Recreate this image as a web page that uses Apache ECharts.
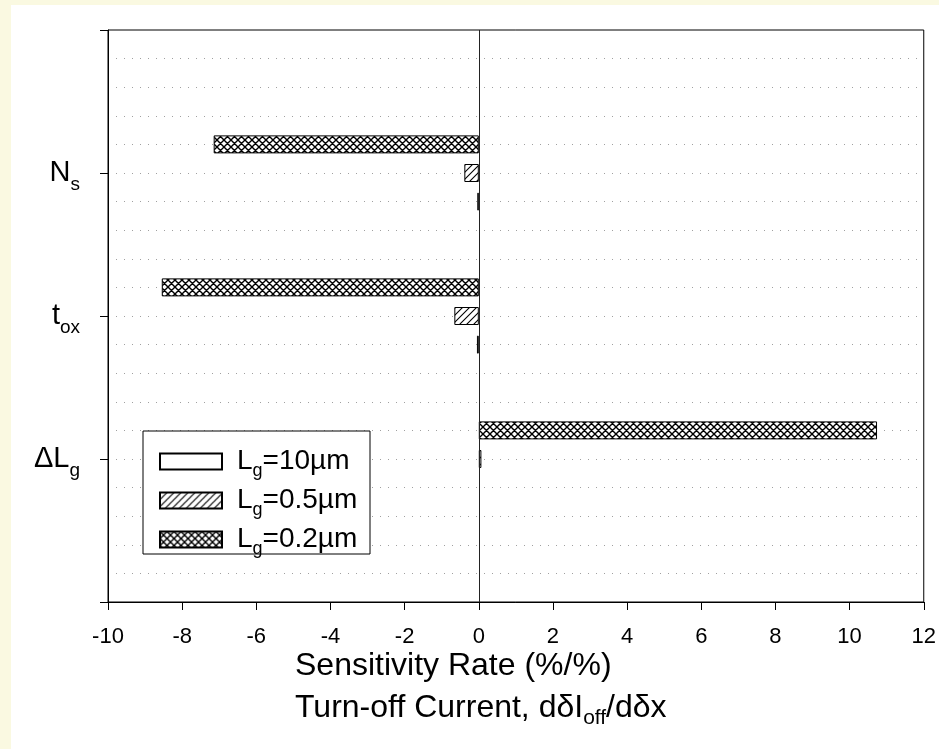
<!DOCTYPE html>
<html>
<head>
<meta charset="utf-8">
<script src="https://cdn.jsdelivr.net/npm/echarts@6/dist/echarts.min.js"></script>
<style>
html, body { margin: 0; padding: 0; background: #FAF9E1; }
#panel { position: absolute; left: 11px; top: 5px; width: 928px; height: 744px; background: #fff; }
#main { position: absolute; left: 0; top: 0; width: 939px; height: 749px; }
</style>
</head>
<body>
<div id="panel"></div>
<div id="main"></div>
<script>
// categories bottom to top, as on the axis
var categories = ['ΔLg', 'tox', 'Ns'];
var seriesNames = ['Lg=0.2µm', 'Lg=0.5µm', 'Lg=10µm'];
var lg02 = [10.74, -8.55, -7.15];
var lg05 = [0.07, -0.66, -0.39];
var lg10 = [null, -0.05, -0.04];
var xTicks = { min: -10, max: 12, step: 2 };

var FONT = '"Liberation Sans", Arial, sans-serif';

// hatch fills
function makeHatch(cross) {
    var s = 7;
    var c = document.createElement('canvas');
    c.width = s;
    c.height = s;
    var g = c.getContext('2d');
    g.fillStyle = '#fff';
    g.fillRect(0, 0, s, s);
    g.strokeStyle = '#000';
    g.lineWidth = cross ? 1.4 : 1.1;
    g.beginPath();
    g.moveTo(-1, s + 1); g.lineTo(s + 1, -1);
    g.moveTo(-1, 1); g.lineTo(1, -1);
    g.moveTo(s - 1, s + 1); g.lineTo(s + 1, s - 1);
    if (cross) {
        g.moveTo(-1, -1); g.lineTo(s + 1, s + 1);
        g.moveTo(s - 1, -1); g.lineTo(s + 1, 1);
        g.moveTo(-1, s - 1); g.lineTo(1, s + 1);
    }
    g.stroke();
    return { image: c, repeat: 'repeat' };
}

function pad(arr) {
    return ['-'].concat(arr, ['-']);
}

var yCats = pad(categories).map(function(c) { return c == '-' ? '' : c; });

var labelMap = {
    'ΔLg': '{m|ΔL}{s|g}',
    'tox': '{m|t}{s|ox}',
    'Ns': '{m|N}{s|s}'
};

function legendLabel(name) {
    // 'Lg=10µm' -> L, g subscript, rest
    return '{m|L}{s|g}{m|' + name.substring(2) + '}';
}

var fills = [makeHatch(true), makeHatch(false), '#fff'];
var values = [lg02, lg05, lg10];

var series = [];
for (var i = 0; i < seriesNames.length; i++) {
    var item = {
        name: seriesNames[i],
        type: 'bar',
        yAxisIndex: 0,
        barWidth: 18,
        barGap: '59%',
        data: pad(values[i]),
        itemStyle: {
            color: fills[i],
            borderColor: '#000',
            borderWidth: 1
        }
    };
    if (i == 0) {
        item.markLine = {
            silent: true,
            symbol: ['none', 'none'],
            label: { show: false },
            lineStyle: { color: '#222', width: 1, type: 'solid' },
            data: [{ xAxis: 0 }]
        };
    }
    series.push(item);
}

var chart = echarts.init(document.getElementById('main'));
var option = {
    animation: false,
    backgroundColor: 'transparent',
    grid: {
        left: 108,
        top: 30,
        right: 11,
        bottom: 147,
        show: true,
        borderColor: '#000',
        borderWidth: 1,
        backgroundColor: 'transparent'
    },
    legend: {
        orient: 'vertical',
        left: 159,
        top: 443,
        padding: 0,
        itemGap: 2,
        itemWidth: 62,
        itemHeight: 16,
        icon: 'rect',
        data: [seriesNames[2], seriesNames[1], seriesNames[0]],
        formatter: legendLabel,
        textStyle: {
            padding: [0, 0, 0, 10],
            rich: {
                m: { fontSize: 28, lineHeight: 28, fontFamily: FONT, color: '#000' },
                s: { fontSize: 18, lineHeight: 28, padding: [19, 0, 0, 0], fontFamily: FONT, color: '#000' }
            }
        }
    },
    graphic: [{
        type: 'rect',
        z: 3,
        shape: { x: 143, y: 431, width: 227, height: 123 },
        style: { fill: '#fff', stroke: '#000', lineWidth: 1 }
    }, {
        type: 'text',
        x: 295,
        y: 666,
        style: {
            text: 'Sensitivity Rate (%/%)',
            fontSize: 32,
            fontFamily: FONT,
            fill: '#000',
            verticalAlign: 'middle'
        }
    }, {
        type: 'text',
        x: 295,
        y: 708,
        style: {
            text: '{m|Turn-off Current, dδI}{s|off}{m|/dδx}',
            fontFamily: FONT,
            fill: '#000',
            verticalAlign: 'middle',
            rich: {
                m: { fontSize: 32, lineHeight: 32, fontFamily: FONT, fill: '#000' },
                s: { fontSize: 21, lineHeight: 32, padding: [20, 0, 0, 0], fontFamily: FONT, fill: '#000' }
            }
        }
    }],
    xAxis: {
        type: 'value',
        min: xTicks.min,
        max: xTicks.max,
        interval: xTicks.step,
        axisLine: { show: true, onZero: false, lineStyle: { color: '#000', width: 1 } },
        axisTick: { show: true, inside: false, length: 8, lineStyle: { color: '#000' } },
        axisLabel: { fontSize: 22, fontFamily: FONT, color: '#000', margin: 24 },
        splitLine: { show: false }
    },
    yAxis: [{
        type: 'category',
        data: yCats,
        boundaryGap: false,
        axisLine: { show: true, onZero: false, lineStyle: { color: '#000', width: 1 } },
        axisTick: { show: true, inside: false, length: 8, lineStyle: { color: '#000' } },
        axisLabel: {
            margin: 28,
            formatter: function(v) { return labelMap[v] || ''; },
            rich: {
                m: { fontSize: 29, lineHeight: 30, fontFamily: FONT, color: '#000' },
                s: { fontSize: 19, lineHeight: 30, padding: [24, 0, 0, 0], fontFamily: FONT, color: '#000' }
            }
        },
        splitLine: { show: false }
    }, {
        type: 'value',
        min: 0,
        max: 4,
        interval: 0.2,
        position: 'right',
        axisLine: { show: false, onZero: false },
        axisTick: { show: false },
        axisLabel: { show: false },
        splitLine: {
            show: true,
            showMinLine: false,
            showMaxLine: false,
            lineStyle: { color: '#a0a0a0', width: 1, type: [1, 7] }
        }
    }],
    series: series
};
chart.setOption(option);
</script>
</body>
</html>
